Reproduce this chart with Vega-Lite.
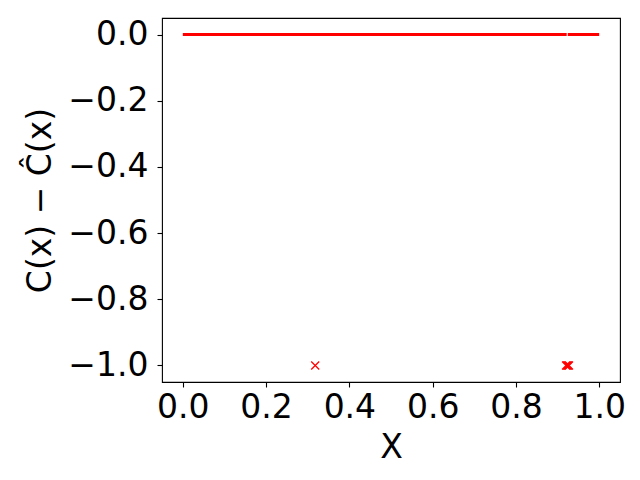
{
  "$schema": "https://vega.github.io/schema/vega-lite/v6.json",
  "width": 458,
  "height": 364,
  "autosize": {"type": "none"},
  "padding": {"left": 162, "top": 18, "right": 20, "bottom": 98},
  "background": "white",
  "config": {
    "view": {"stroke": "black", "strokeWidth": 1.1},
    "font": "DejaVu Sans",
    "axis": {
      "grid": false,
      "domain": false,
      "tickColor": "black",
      "tickSize": 5,
      "tickWidth": 1.1,
      "labelFont": "DejaVu Sans",
      "labelFontSize": 33,
      "labelColor": "black",
      "titleFont": "DejaVu Sans",
      "titleFontSize": 33,
      "titleFontWeight": "normal",
      "titleColor": "black"
    }
  },
  "data": {
    "values": [
      {"x": 0.0, "y": 0, "kind": "line", "seg": "a"},
      {"x": 0.922, "y": 0, "kind": "line", "seg": "a"},
      {"x": 0.9245, "y": 0, "kind": "line", "seg": "b"},
      {"x": 1.0, "y": 0, "kind": "line", "seg": "b"},
      {"x": 0.318, "y": -1, "kind": "err", "seg": "p"},
      {"x": 0.9205, "y": -1, "kind": "err", "seg": "p"},
      {"x": 0.923, "y": -1, "kind": "err", "seg": "p"},
      {"x": 0.925, "y": -1, "kind": "err", "seg": "p"},
      {"x": 0.9275, "y": -1, "kind": "err", "seg": "p"}
    ]
  },
  "encoding": {
    "x": {
      "field": "x",
      "type": "quantitative",
      "scale": {"domain": [-0.05, 1.05], "nice": false, "zero": false},
      "axis": {
        "title": "X",
        "values": [0, 0.2, 0.4, 0.6, 0.8, 1.0],
        "format": ".1f",
        "labelPadding": 4,
        "titlePadding": 7,
        "labelFlush": false
      }
    },
    "y": {
      "field": "y",
      "type": "quantitative",
      "scale": {"domain": [-1.05, 0.05], "nice": false, "zero": false},
      "axis": {
        "title": "C(x) − Ĉ(x)",
        "values": [0, -0.2, -0.4, -0.6, -0.8, -1.0],
        "format": ".1f",
        "labelPadding": 9,
        "titlePadding": 10
      }
    }
  },
  "layer": [
    {
      "transform": [{"filter": "datum.kind == 'line'"}],
      "mark": {"type": "line", "color": "#ff0000", "strokeWidth": 3, "strokeCap": "butt"},
      "encoding": {"detail": {"field": "seg"}}
    },
    {
      "transform": [{"filter": "datum.kind == 'err'"}],
      "mark": {
        "type": "point",
        "shape": "M-1,-1L1,1M-1,1L1,-1",
        "filled": false,
        "stroke": "#ff0000",
        "strokeWidth": 1.3,
        "size": 64,
        "opacity": 1
      }
    }
  ]
}
